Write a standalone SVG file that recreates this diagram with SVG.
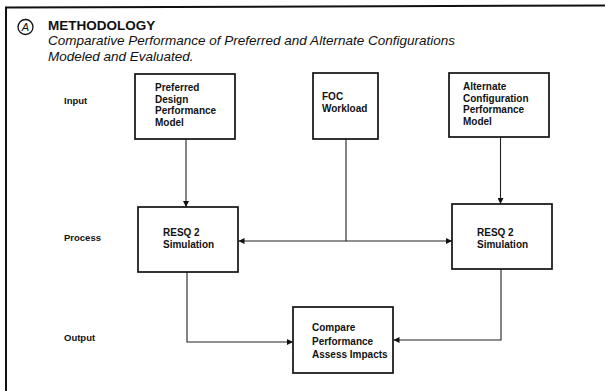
<svg xmlns="http://www.w3.org/2000/svg" width="605" height="391" viewBox="0 0 605 391">
<style>
text{font-family:"Liberation Sans",Arial,Helvetica,sans-serif;fill:#111}
.b{font-weight:bold;font-size:10px}
.lbl{font-weight:bold;font-size:9.5px}
.box{fill:#fff;stroke:#111;stroke-width:1.7}
.con{fill:none;stroke:#222;stroke-width:1.1}
</style>
<defs>
<marker id="ah" viewBox="0 0 10 10" refX="10" refY="5" markerWidth="9" markerHeight="6" markerUnits="userSpaceOnUse" orient="auto">
<path d="M0,0 L10,5 L0,10 Z" fill="#111"/>
</marker>
</defs>
<rect width="605" height="391" fill="#fff"/>
<path d="M6,391 V7.5 L605,5.5" fill="none" stroke="#111" stroke-width="2"/>
<g id="title">
<circle cx="25.5" cy="27" r="7.5" fill="none" stroke="#111" stroke-width="1.3"/>
<text x="25.5" y="31.2" font-size="11" font-style="italic" text-anchor="middle">A</text>
<text x="48" y="29.5" font-size="13.5" font-weight="bold">METHODOLOGY</text>
<text x="48" y="45" font-size="13.5" font-style="italic">Comparative Performance of Preferred and Alternate Configurations</text>
<text x="48" y="60.5" font-size="13.5" font-style="italic">Modeled and Evaluated.</text>
</g>
<g id="labels">
<text class="lbl" x="64" y="104">Input</text>
<text class="lbl" x="64" y="241">Process</text>
<text class="lbl" x="64" y="341">Output</text>
</g>
<g id="connectors">
<path class="con" d="M186,139 V207" marker-end="url(#ah)"/>
<path class="con" d="M346,139 V241 H238.5" marker-end="url(#ah)"/>
<path class="con" d="M346,241 H452" marker-end="url(#ah)"/>
<path class="con" d="M500.5,137 V204" marker-end="url(#ah)"/>
<path class="con" d="M187,272 V342 H293" marker-end="url(#ah)"/>
<path class="con" d="M501,269 V340 H393.5" marker-end="url(#ah)"/>
</g>
<g id="preferred">
<rect class="box" x="135" y="74" width="100" height="65"/>
<text class="b" x="155" y="91">Preferred</text>
<text class="b" x="155" y="102.5">Design</text>
<text class="b" x="155" y="114">Performance</text>
<text class="b" x="155" y="125.5">Model</text>
</g>
<g id="foc">
<rect class="box" x="313" y="73" width="65" height="66"/>
<text class="b" x="322" y="100">FOC</text>
<text class="b" x="322" y="111.5">Workload</text>
</g>
<g id="alternate">
<rect class="box" x="449" y="73" width="100" height="64"/>
<text class="b" x="463" y="90">Alternate</text>
<text class="b" x="463" y="101.5">Configuration</text>
<text class="b" x="463" y="113">Performance</text>
<text class="b" x="463" y="124.5">Model</text>
</g>
<g id="resq-left">
<rect class="box" x="138" y="207" width="100" height="65"/>
<text class="b" x="163" y="236">RESQ 2</text>
<text class="b" x="163" y="247.5">Simulation</text>
</g>
<g id="resq-right">
<rect class="box" x="452" y="204" width="100" height="65"/>
<text class="b" x="477" y="236">RESQ 2</text>
<text class="b" x="477" y="248">Simulation</text>
</g>
<g id="compare">
<rect class="box" x="293" y="307" width="100" height="66"/>
<text class="b" x="312" y="331">Compare</text>
<text class="b" x="312" y="344.5">Performance</text>
<text class="b" x="312" y="358">Assess Impacts</text>
</g>
</svg>
